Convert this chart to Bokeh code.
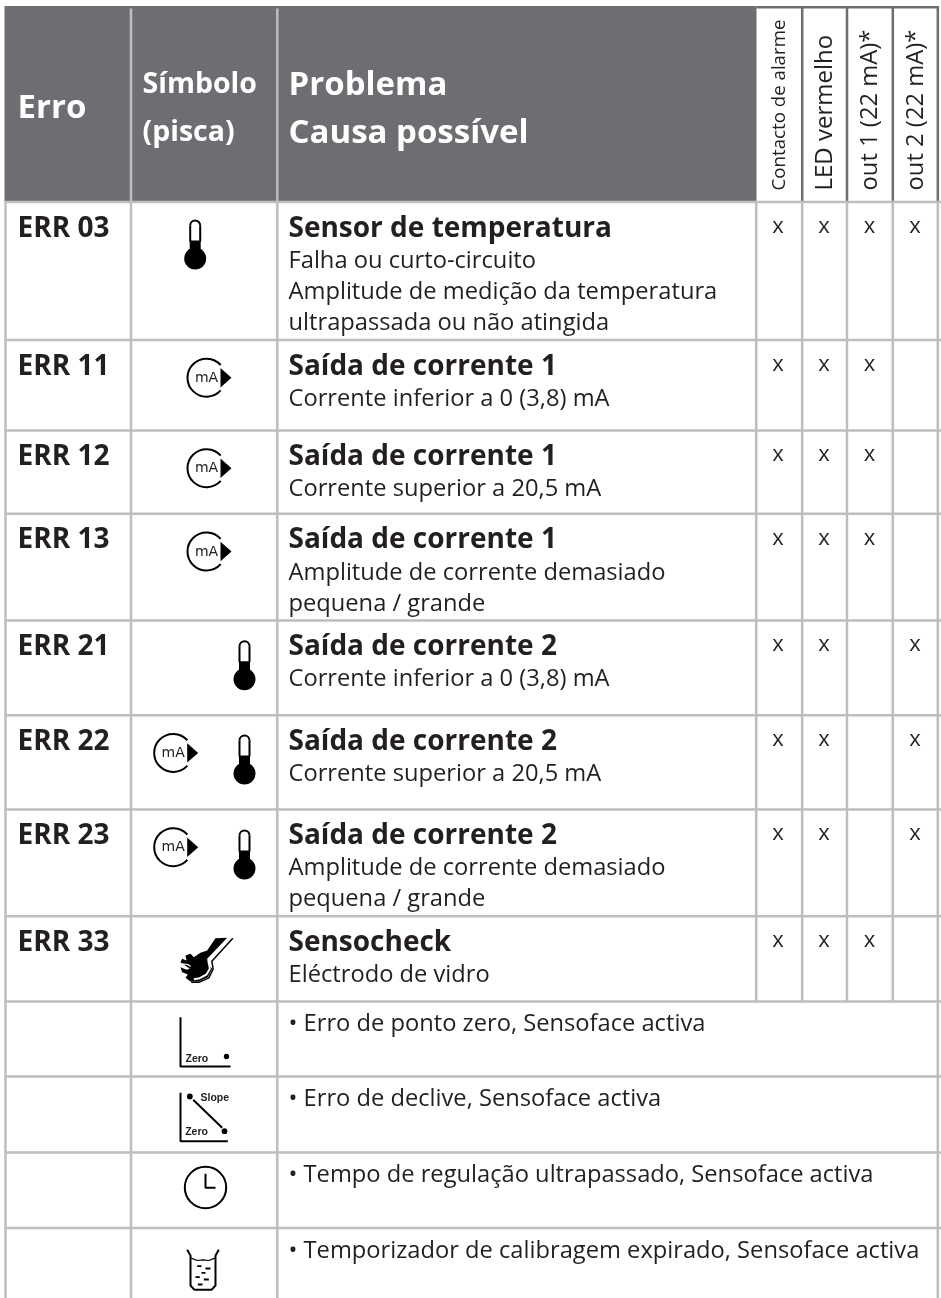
from math import cos, sin, radians
from bokeh.plotting import figure
from bokeh.embed import file_html
from bokeh.resources import INLINE
from bokeh.core.properties import value

# ---------- content ----------
header_erro = "Erro"
header_simbolo = ["Símbolo", "(pisca)"]
header_problema = ["Problema", "Causa possível"]
header_outputs = ["Contacto de alarme", "LED vermelho", "out 1 (22 mA)*", "out 2 (22 mA)*"]

codes = ["ERR 03", "ERR 11", "ERR 12", "ERR 13", "ERR 21", "ERR 22", "ERR 23", "ERR 33", "", "", "", ""]
titles = ["Sensor de temperatura", "Saída de corrente 1", "Saída de corrente 1", "Saída de corrente 1",
          "Saída de corrente 2", "Saída de corrente 2", "Saída de corrente 2", "Sensocheck"]
descriptions = [
    ["Falha ou curto-circuito", "Amplitude de medição da temperatura", "ultrapassada ou não atingida"],
    ["Corrente inferior a 0 (3,8) mA"],
    ["Corrente superior a 20,5 mA"],
    ["Amplitude de corrente demasiado", "pequena / grande"],
    ["Corrente inferior a 0 (3,8) mA"],
    ["Corrente superior a 20,5 mA"],
    ["Amplitude de corrente demasiado", "pequena / grande"],
    ["Eléctrodo de vidro"],
]
bullets = ["• Erro de ponto zero, Sensoface activa",
           "• Erro de declive, Sensoface activa",
           "• Tempo de regulação ultrapassado, Sensoface activa",
           "• Temporizador de calibragem expirado, Sensoface activa"]
marks_alarm = [1, 1, 1, 1, 1, 1, 1, 1]
marks_led   = [1, 1, 1, 1, 1, 1, 1, 1]
marks_out1  = [1, 1, 1, 1, 0, 0, 0, 1]
marks_out2  = [1, 0, 0, 0, 1, 1, 1, 0]

# ---------- layout ----------
W, H = 941, 1298
row_lines = [201.5, 339.5, 430, 513.3, 620, 714.7, 809, 915.7, 1001, 1076, 1152, 1227.5]
col_lines = [5, 130.5, 276.8, 755.7, 801.7, 846.5, 892.3, 937.3]
x_centers = [777.5, 823.5, 869, 914.5]
GREY, LIGHT, INK = "#6d6e71", "#bcbec0", "#231f20"
SANS, ARIAL = "Open Sans", "Liberation Sans"
BASE = 0.39   # distance Bokeh puts between the anchor and the baseline, per font size

p = figure(width=W, height=H, x_range=(0, W), y_range=(H, 0), toolbar_location=None,
           output_backend="svg", x_axis_location=None, y_axis_location=None,
           min_border=0, outline_line_color=None, background_fill_color="white")
p.grid.visible = False
p.styles = {"position": "fixed", "left": "0px", "top": "0px"}


def txt(x, y, s, size, bold=False, color=INK, angle=0, font=SANS, align="left"):
    a = radians(angle)
    d = BASE * size
    p.text([x - d * sin(a)], [y - d * cos(a)], text=[s], text_font=value(font), text_font_size=f"{size}px",
           text_font_style="bold" if bold else "normal", text_color=color,
           text_baseline="alphabetic", text_align=align, angle=[angle], angle_units="deg")


# header block
p.quad(left=[4], right=[756], top=[5.5], bottom=[201], fill_color=GREY, line_color=None)
p.quad(left=[756], right=[938.3], top=[5.5], bottom=[8], fill_color=GREY, line_color=None)
p.segment(col_lines[1:3], [8, 8], col_lines[1:3], [201, 201], line_color=LIGHT, line_width=2.5)
p.segment(col_lines[4:], [6] * 4, col_lines[4:], [201] * 4, line_color=GREY, line_width=2.5)

# grid
for x in col_lines:
    bottom = 1001 if x in col_lines[3:7] else H
    p.segment([x], [202], [x], [bottom], line_color=LIGHT, line_width=2.5)
p.segment([4] * 12, row_lines, [941] * 12, row_lines, line_color=LIGHT, line_width=2.5)

# header texts
txt(17, 118, header_erro, 33, True, "white")
txt(142, 93, header_simbolo[0], 28.5, True, "white")
txt(142, 141, header_simbolo[1], 28.5, True, "white")
txt(288, 95, header_problema[0], 33, True, "white")
txt(288, 143, header_problema[1], 33, True, "white")
for xb, s, fs in zip([784.5, 831.5, 877, 922.5], header_outputs, [18.7, 24, 23.8, 23.8]):
    txt(xb, 190, s, fs, angle=90)

# rows
for i, code in enumerate(codes):
    if code:
        txt(17, row_lines[i] + 34.5, code, 28, True)
for i, t in enumerate(titles):
    top = row_lines[i]
    txt(288, top + 34.5, t, 28, True)
    for j, line in enumerate(descriptions[i]):
        txt(288, top + 66 + j * 31, line, 23.7)
    for xc, col in zip(x_centers, (marks_alarm, marks_led, marks_out1, marks_out2)):
        if col[i]:
            txt(xc, top + 30.5, "x", 22, align="center")
for i, b in enumerate(bullets):
    txt(288, row_lines[8 + i] + 30, b, 23.7)


# ---------- icons ----------
def thermometer(xc, top):
    p.circle([xc], [top + 38], radius=11, fill_color="black", line_color=None)
    p.quad(left=[xc - 5.5], right=[xc + 5.5], top=[top + 20], bottom=[top + 38], fill_color="black", line_color=None)
    p.segment([xc - 5, xc + 5], [top + 5, top + 5], [xc - 5, xc + 5], [top + 21, top + 21], line_color="black", line_width=2)
    p.arc([xc], [top + 5], radius=5, start_angle=0, end_angle=3.14159, direction="anticlock",
          line_color="black", line_width=2)


def current(xc, yc):
    p.arc([xc], [yc], radius=19, start_angle=0.73, end_angle=-0.73, direction="anticlock",
          line_color="black", line_width=2)
    p.patch([xc + 14, xc + 25, xc + 14], [yc - 9.7, yc, yc + 9.7], fill_color="black", line_color=None)
    txt(xc, yc + 4.7, "mA", 14, font="DejaVu Sans", align="center", color="#222222")


thermo_tops = {0: 220, 4: 640.7, 5: 735, 6: 830}
for r, y in thermo_tops.items():
    thermometer(194.7 if r == 0 else 244, y)
for r, xc in {1: 206, 2: 206, 3: 206, 5: 172.7, 6: 172.7}.items():
    current(xc, row_lines[r] + 37.7)


def zx(v): return [100 + a / 3 for a in v]
def zy(v): return [900 + a / 3 for a in v]


# sensocheck
bx = [345, 380, 320, 322, 335, 322, 295, 270, 255, 262, 245, 240, 258, 268, 240, 245, 258, 255, 270, 280, 300, 320]
by = [113, 112, 175, 190, 205, 230, 243, 243, 232, 222, 215, 200, 208, 205, 185, 175, 180, 165, 160, 170, 157, 150]
p.patch(zx(bx), zy(by), fill_color="black", line_color=None)
p.line(zx([397, 334, 338, 325, 297, 272]), zy([113, 182, 205, 232, 245, 245]), line_color="black", line_width=1.5)
p.line(zx([325, 328, 318, 298, 280]), zy([185, 205, 222, 233, 236]), line_color="white", line_width=2)
p.line(zx([245, 262, 270]), zy([190, 192, 198]), line_color="white", line_width=1.2)

# zero
p.line(zx([240, 240, 390]), zy([350, 498, 498]), line_color="black", line_width=2)
txt(185, 1061.7, "Zero", 10.5, True, font=ARIAL, color="#222222")
p.circle(zx([378]), zy([468]), radius=2.7, fill_color="black", line_color=None)

# slope
p.line(zx([240, 240, 382]), zy([577, 722, 722]), line_color="black", line_width=2)
p.circle(zx([268, 372]), zy([588, 692]), radius=2.9, fill_color="black", line_color=None)
p.line(zx([278, 365]), zy([598, 682]), line_color="black", line_width=2)
txt(200, 1100.7, "Slope", 10.5, True, font=ARIAL, color="#222222")
txt(184.7, 1134.3, "Zero", 10.5, True, font=ARIAL, color="#222222")

# clock
p.circle([205], [1187], radius=20.7, fill_color=None, line_color="black", line_width=2)
p.line([205, 205, 215], [1173.3, 1187.3, 1187.3], line_color="black", line_width=2)

# beaker
p.line(zx([260, 270, 270, 282, 333, 345, 345, 355]), zy([1048, 1065, 1155, 1168, 1168, 1155, 1065, 1048]),
       line_color="black", line_width=2)
p.line(zx([270, 290, 308, 325, 345]), zy([1072, 1080, 1078, 1080, 1072]), line_color="black", line_width=1.2)
for a, b, c in [(290, 303, 1097), (315, 330, 1104), (303, 315, 1117), (285, 298, 1130), (310, 325, 1137), (292, 306, 1152)]:
    p.line(zx([a, b]), zy([c, c]), line_color="black", line_width=1.8)

open("out.html", "w").write(file_html(p, INLINE))
